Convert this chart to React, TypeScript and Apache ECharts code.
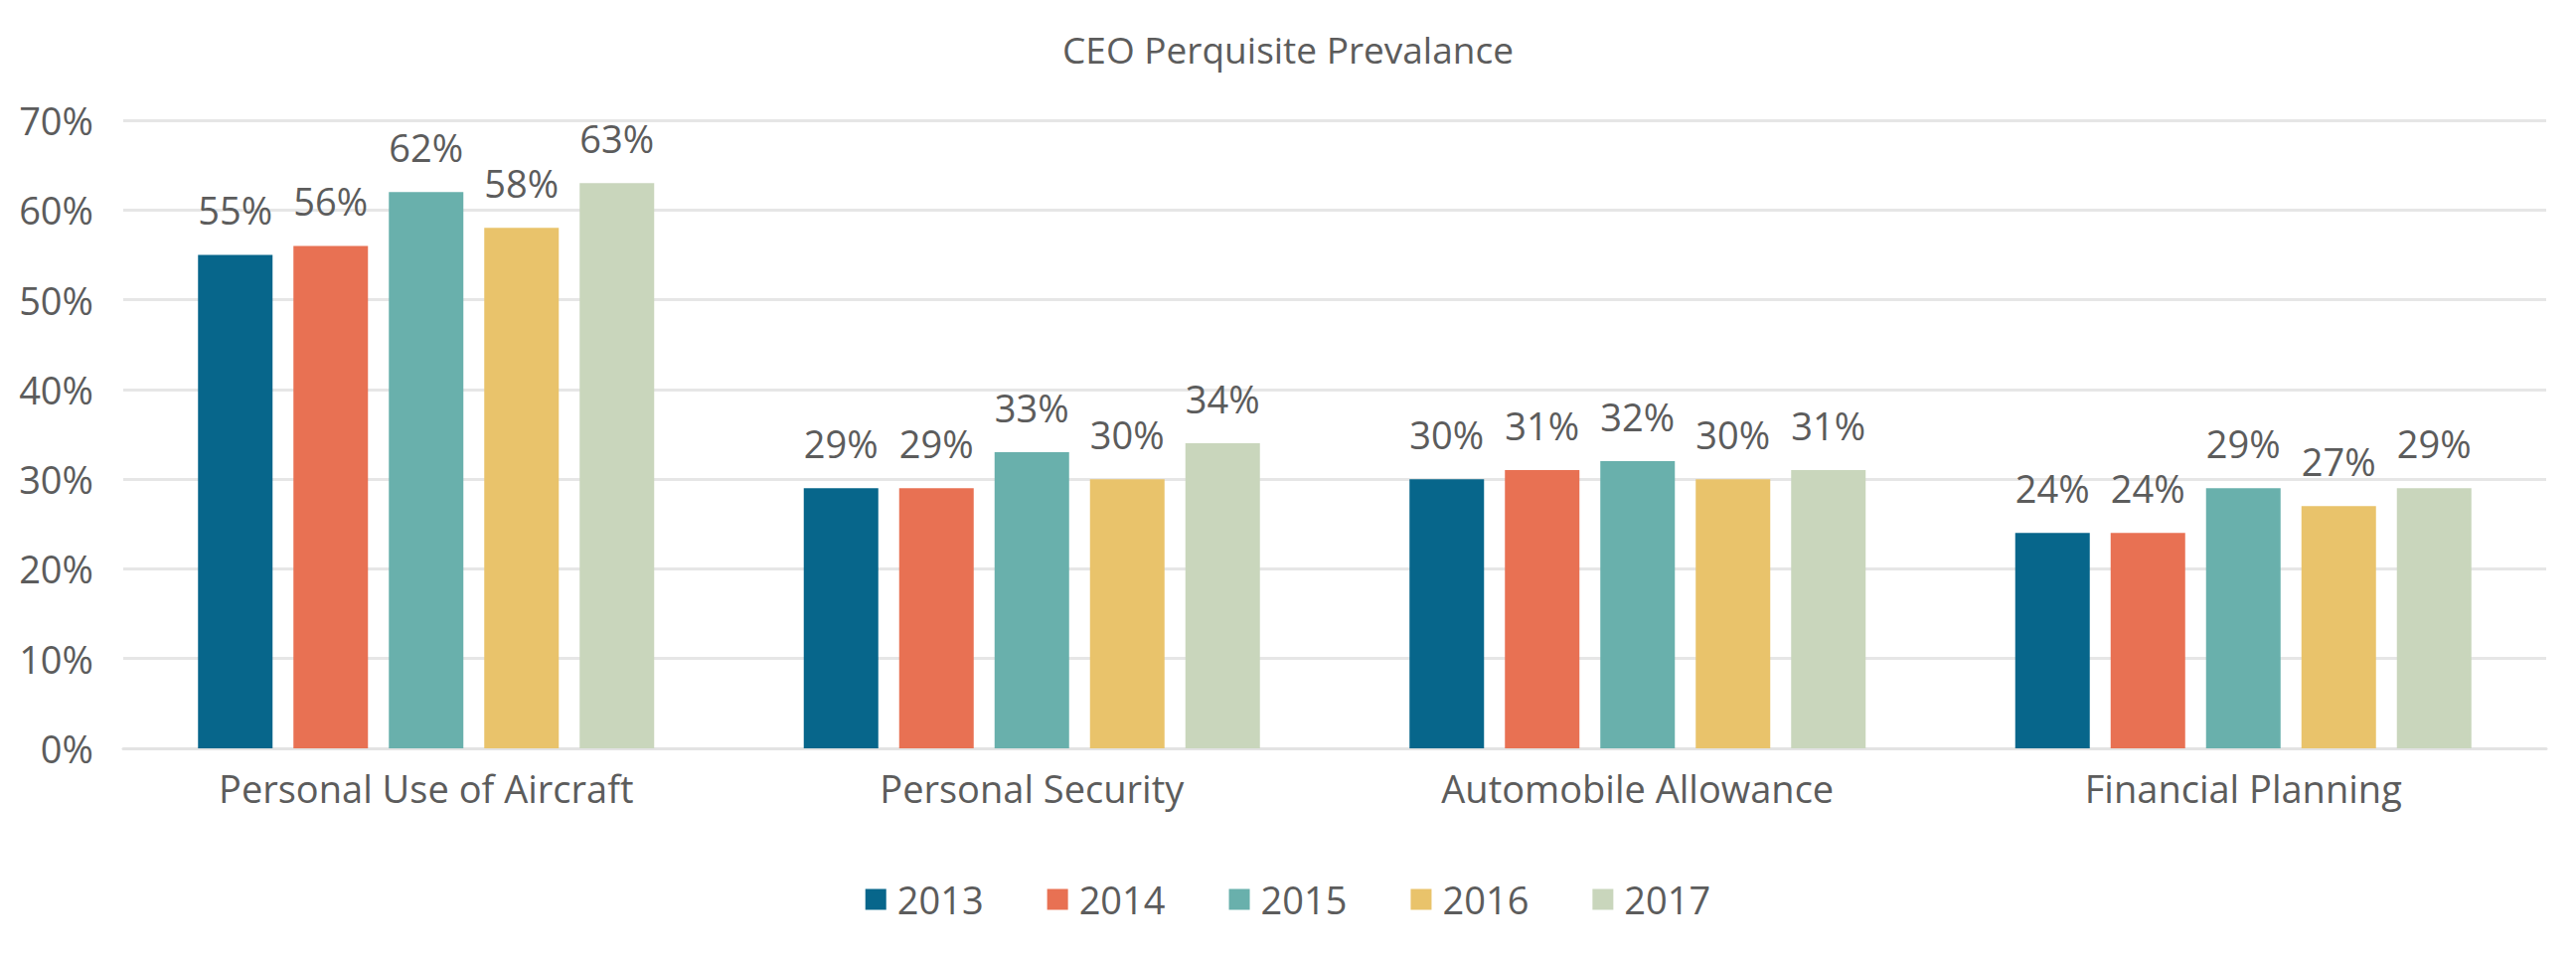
import React, { useEffect, useRef } from 'react';
import * as echarts from 'echarts';

const categories = ['Personal Use of Aircraft', 'Personal Security', 'Automobile Allowance', 'Financial Planning'];
const years = ['2013', '2014', '2015', '2016', '2017'];
const colors = ['#07668B', '#E87153', '#69B0AC', '#E9C36B', '#C9D6BC'];

const values2013 = [55, 29, 30, 24];
const values2014 = [56, 29, 31, 24];
const values2015 = [62, 33, 32, 29];
const values2016 = [58, 30, 30, 27];
const values2017 = [63, 34, 31, 29];

const yTicks = [0, 10, 20, 30, 40, 50, 60, 70];

const textColor = '#5c5c5c';
const fontFamily = '"Open Sans", Lato, sans-serif';

function App() {
  const chartRef = useRef(null);

  useEffect(() => {
    document.body.style.margin = '0';
    if (!chartRef.current) return;
    const chart = echarts.init(chartRef.current, null, { renderer: 'svg' });

    const seriesValues = [values2013, values2014, values2015, values2016, values2017];

    const options = {
      animation: false,
      backgroundColor: '#ffffff',
      color: colors,
      textStyle: { fontFamily },
      title: {
        text: 'CEO Perquisite Prevalance',
        left: 'center',
        top: 31,
        padding: 0,
        textStyle: { color: textColor, fontSize: 37, fontWeight: 'normal', fontFamily },
      },
      legend: {
        data: years,
        left: 'center',
        top: 881,
        itemWidth: 21,
        itemHeight: 21,
        itemGap: 64,
        icon: 'rect',
        textStyle: { color: textColor, fontSize: 38, fontFamily, padding: [0, 0, 0, 6] },
      },
      grid: {
        left: 124,
        right: 30,
        top: 121,
        bottom: 214,
        containLabel: false,
      },
      xAxis: {
        type: 'category',
        data: categories,
        axisTick: { show: false },
        axisLine: { show: true, lineStyle: { color: '#e3e3e3', width: 3 } },
        axisLabel: { color: textColor, fontSize: 38, fontFamily, margin: 21 },
      },
      yAxis: {
        type: 'value',
        min: yTicks[0],
        max: yTicks[yTicks.length - 1],
        interval: 10,
        axisLine: { show: false },
        axisTick: { show: false },
        splitLine: { lineStyle: { color: '#e6e6e6', width: 3 } },
        axisLabel: { color: textColor, fontSize: 38, fontFamily, margin: 30, formatter: '{value}%' },
      },
      series: years.map((year, i) => ({
        name: year,
        type: 'bar',
        data: seriesValues[i],
        barWidth: 75,
        barGap: '28%',
        itemStyle: { color: colors[i] },
        label: {
          show: true,
          position: 'top',
          distance: 26,
          formatter: '{c}%',
          color: textColor,
          fontSize: 38,
          fontFamily,
        },
      })),
    };

    chart.setOption(options);

    return () => {
      chart.dispose();
    };
  }, []);

  return <div ref={chartRef} style={{ width: '2592px', height: '967px' }} />;
}

export default App;
